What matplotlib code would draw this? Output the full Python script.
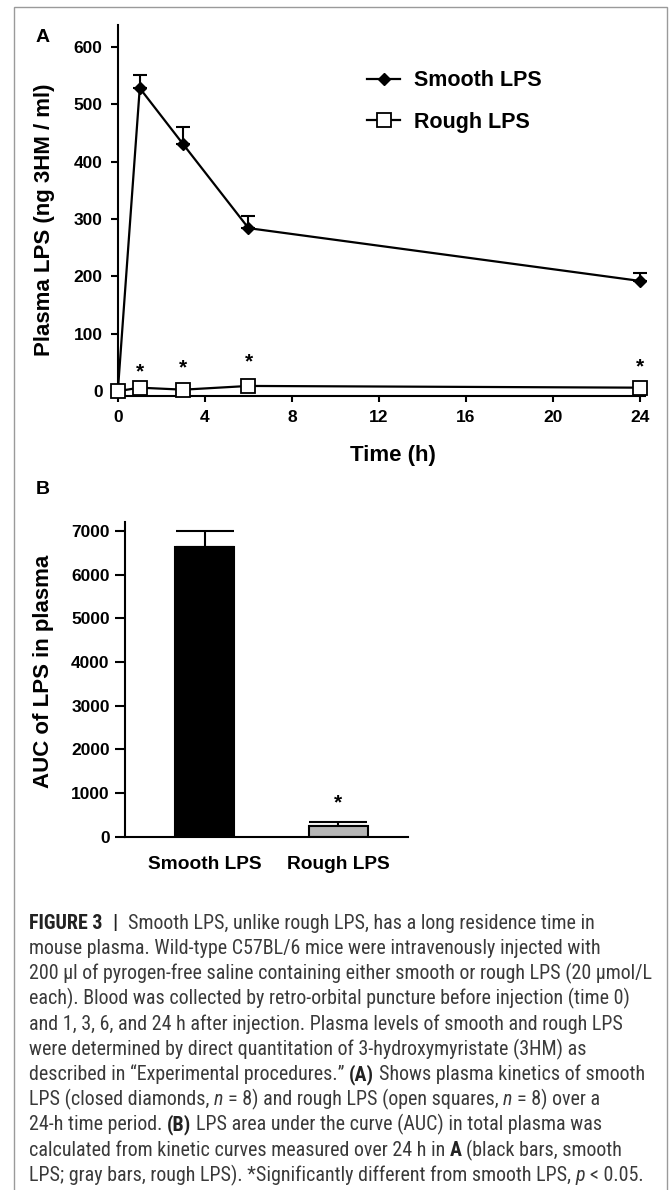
import numpy as np
import matplotlib
matplotlib.use('Agg')
import matplotlib.pyplot as plt
from matplotlib.patches import Rectangle
from matplotlib import font_manager

plt.rcParams['font.family'] = ['Liberation Sans', 'DejaVu Sans']
plt.rcParams['font.weight'] = 'bold'
plt.rcParams['axes.labelweight'] = 'bold'

# panel A data
time = [0, 1, 3, 6, 24]
smooth = [4, 528, 430, 284, 192]
smooth_err = [0, 22, 31, 22, 14]
rough = [0, 6, 2.5, 9, 6]
rough_err = [1, 2, 2, 2, 2]
star_t = [1, 3, 6, 24]
star_y = [34, 40, 51, 43]

# panel B data
groups = ['Smooth LPS', 'Rough LPS']
auc = [6630, 245]
auc_err = [370, 85]
bar_colors = ['black', '#b5b5b5']
star_b = 780

caption = [
    [("FIGURE 3", 'bold', 'normal'), ("|", 'bold', 'normal'),
     ("Smooth LPS, unlike rough LPS, has a long residence time in", 'normal', 'normal')],
    [("mouse plasma. Wild-type C57BL/6 mice were intravenously injected with", 'normal', 'normal')],
    [("200 \u00b5l of pyrogen-free saline containing either smooth or rough LPS (20 \u00b5mol/L", 'normal', 'normal')],
    [("each). Blood was collected by retro-orbital puncture before injection (time 0)", 'normal', 'normal')],
    [("and 1, 3, 6, and 24 h after injection. Plasma levels of smooth and rough LPS", 'normal', 'normal')],
    [("were determined by direct quantitation of 3-hydroxymyristate (3HM) as", 'normal', 'normal')],
    [("described in \u201cExperimental procedures.\u201d", 'normal', 'normal'), ("(A)", 'bold', 'normal'),
     ("Shows plasma kinetics of smooth", 'normal', 'normal')],
    [("LPS (closed diamonds,", 'normal', 'normal'), ("n", 'normal', 'italic'),
     ("= 8) and rough LPS (open squares,", 'normal', 'normal'), ("n", 'normal', 'italic'),
     ("= 8) over a", 'normal', 'normal')],
    [("24-h time period.", 'normal', 'normal'), ("(B)", 'bold', 'normal'),
     ("LPS area under the curve (AUC) in total plasma was", 'normal', 'normal')],
    [("calculated from kinetic curves measured over 24 h in", 'normal', 'normal'), ("A", 'bold', 'normal'),
     ("(black bars, smooth", 'normal', 'normal')],
    [("LPS; gray bars, rough LPS). *Significantly different from smooth LPS,", 'normal', 'normal'),
     ("p", 'normal', 'italic'), ("< 0.05.", 'normal', 'normal')],
]

W, H = 670, 1190
fig = plt.figure(figsize=(6.7, 11.9), dpi=100)

# border of the figure box
fig.patches.append(Rectangle((14 / W, -0.01), 653 / W, 1 - 7 / H + 0.01, transform=fig.transFigure,
                             fill=False, edgecolor='#9a9a9a', linewidth=1))

# ---------- panel A ----------
ax = fig.add_axes([118 / W, 1 - 395.7 / H, 527.4 / W, 370.7 / H])
ax.errorbar(time, smooth, yerr=[np.zeros(len(smooth)), smooth_err], fmt='none', ecolor='k',
            elinewidth=1.5, capsize=4.8, capthick=1.5, clip_on=False)
ax.errorbar(time, rough, yerr=[np.zeros(len(rough)), rough_err], fmt='none', ecolor='k',
            elinewidth=1.5, capsize=4, capthick=1.5, clip_on=False)
ax.plot(time, smooth, '-D', color='k', ms=6.5, lw=1.6, clip_on=False, label='Smooth LPS')
ax.plot(time, rough, '-s', color='k', mfc='white', ms=9.5, mew=1.3, lw=1.6, clip_on=False,
        label='Rough LPS', zorder=3)
for t, y in zip(star_t, star_y):
    ax.text(t, y, '*', ha='center', va='center', fontsize=15)

ax.set_xlim(0, 24.25)
ax.set_ylim(-8, 638)
ax.set_xticks([0, 4, 8, 12, 16, 20, 24])
ax.set_yticks(range(0, 601, 100))
ax.spines['top'].set_visible(False)
ax.spines['right'].set_visible(False)
for s in ['left', 'bottom']:
    ax.spines[s].set_linewidth(1.5)
ax.tick_params(axis='y', length=5, width=1.5, pad=6, labelsize=12.5)
ax.tick_params(axis='x', length=4, width=1.5, pad=6, labelsize=12.5)
ax.set_xlabel('Time (h)', fontsize=16)
ax.xaxis.set_label_coords(0.5214, -0.16)
ax.xaxis.label.set_va('center')
ax.set_ylabel('Plasma LPS (ng 3HM / ml)', fontsize=16)
ax.yaxis.set_label_coords((45 - 118) / 527.4, 0.474)
ax.yaxis.label.set_va('center')
ax.legend(loc='upper left', bbox_to_anchor=(367 / W, 1 - 70.5 / H), bbox_transform=fig.transFigure,
          frameon=False, fontsize=15.5, handlelength=1.55, handletextpad=0.65, labelspacing=0.95,
          borderpad=0, borderaxespad=0)

fig.text(42.5 / W, 1 - 37 / H, 'A', ha='center', va='center', fontsize=14)
fig.text(42.5 / W, 1 - 490 / H, 'B', ha='center', va='center', fontsize=14)

# ---------- panel B ----------
bx = fig.add_axes([125 / W, 1 - 836.7 / H, 283 / W, 315 / H])
xpos = np.arange(len(groups))
bx.bar(xpos, auc, width=0.443, color=bar_colors, edgecolor='black', linewidth=1.5, zorder=2)
bx.errorbar(xpos, auc, yerr=[np.zeros(len(auc)), auc_err], fmt='none', ecolor='k',
            elinewidth=1.5, capsize=21, capthick=1.5, zorder=1)
bx.text(1, star_b, '*', ha='center', va='center', fontsize=15)
bx.set_xlim(-0.6, 1.525)
bx.set_ylim(0, 7210)
bx.set_xticks(xpos)
bx.set_xticklabels(groups, fontsize=13.8)
bx.set_yticks(range(0, 7001, 1000))
bx.spines['top'].set_visible(False)
bx.spines['right'].set_visible(False)
for s in ['left', 'bottom']:
    bx.spines[s].set_linewidth(1.5)
bx.tick_params(axis='y', length=7, width=1.5, pad=4, labelsize=12.5)
bx.tick_params(axis='x', length=0, pad=14)
bx.set_ylabel('AUC of LPS in plasma', fontsize=16)
bx.yaxis.set_label_coords((43 - 125) / 283, 0.526)
bx.yaxis.label.set_va('center')

# ---------- caption ----------
# a narrow face if one is installed, otherwise plain Liberation Sans sized to the line width
installed = {f.name for f in font_manager.fontManager.ttflist}
narrow = [n for n in ['Liberation Sans Narrow', 'Roboto Condensed', 'Open Sans Condensed',
                      'Noto Sans Condensed', 'DejaVu Sans Condensed'] if n in installed]
cap_family = narrow[:1] + ['Liberation Sans', 'DejaVu Sans']
cap_color = '#3a3a3a'
fig.canvas.draw()
rend = fig.canvas.get_renderer()


def text_w(s, weight, style, size):
    t = fig.text(0, 0, s, family=cap_family, fontsize=size, weight=weight, style=style)
    w = t.get_window_extent(rend).width
    t.remove()
    return w


# widest line (line 3) runs from x=29 to x=652 in the reference
cap_size = min(14.5, 10 * 623 / text_w(caption[2][0][0], 'normal', 'normal', 10))
space_w = text_w('a a', 'normal', 'normal', cap_size) - text_w('aa', 'normal', 'normal', cap_size)
y0, dy = 923.3, 25.2
for i, line in enumerate(caption):
    x = 29
    y = 1 - (y0 + i * dy) / H
    for j, (s, weight, style) in enumerate(line):
        if j > 0:
            x += space_w * (2.2 if i == 0 else 1)
        t = fig.text(x / W, y, s, family=cap_family, fontsize=cap_size, weight=weight, style=style,
                     color=cap_color if weight == 'normal' else '#222222', ha='left', va='center')
        x += t.get_window_extent(rend).width

fig.savefig('out.png', dpi=100)
